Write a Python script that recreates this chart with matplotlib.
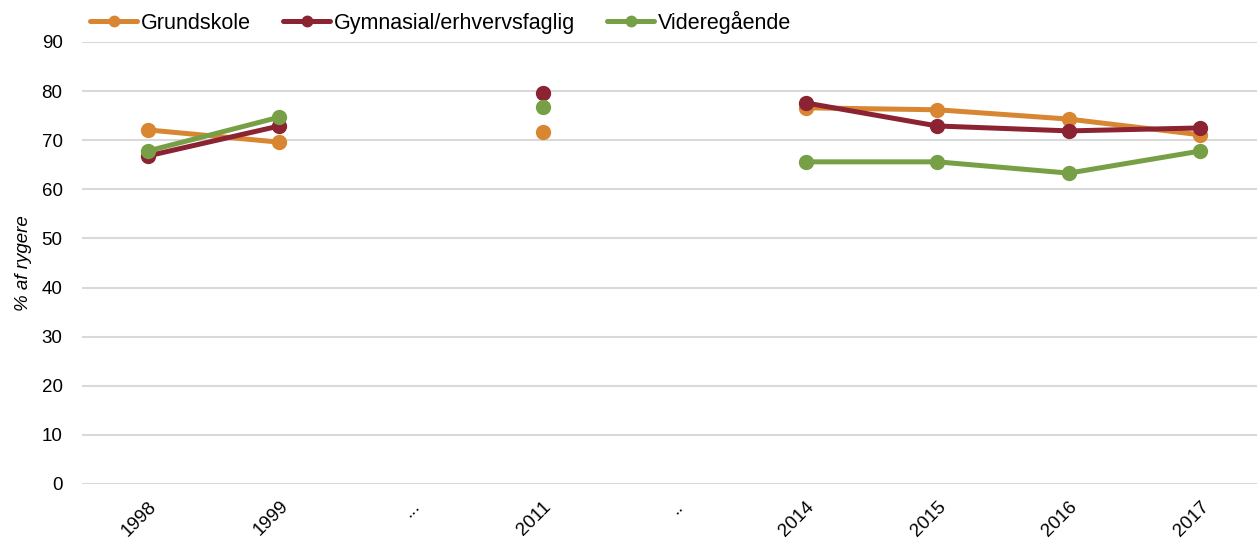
import numpy as np
import matplotlib
matplotlib.use("Agg")
import matplotlib.pyplot as plt

plt.rcParams['font.family'] = ['Liberation Sans', 'DejaVu Sans']

years = ['1998', '1999', '...', '2011', '..', '2014', '2015', '2016', '2017']
grundskole = [72.1, 69.6, np.nan, 71.7, np.nan, 76.6, 76.2, 74.3, 71.1]
gymnasial = [66.8, 72.9, np.nan, 79.6, np.nan, 77.6, 72.9, 71.9, 72.5]
videregaaende = [67.8, 74.7, np.nan, 76.8, np.nan, 65.6, 65.6, 63.3, 67.8]

names = ['Grundskole', 'Gymnasial/erhvervsfaglig', 'Videregående']
colors = ['#D98633', '#8B2333', '#77A046']

fig = plt.figure(figsize=(12.57, 5.4), dpi=100)
ax = fig.add_axes([82 / 1257, 56 / 540, 1 - 82 / 1257, 442 / 540])

x = np.arange(len(years))
for vals, name, c in zip([grundskole, gymnasial, videregaaende], names, colors):
    ax.plot(x, vals, color=c, lw=3.6, marker='o', ms=10, label=name,
            solid_capstyle='round')

ax.set_ylim(0, 90)
ax.set_yticks(range(0, 91, 10))
ax.set_xlim(-0.5, 8.43)
ax.set_xticks(x)
ax.set_xticklabels(years, rotation=45, ha='right', rotation_mode='anchor')
ax.tick_params(length=0, labelsize=13.5)
ax.tick_params(axis='y', pad=14)
ax.tick_params(axis='x', pad=10)
ax.grid(axis='y', color='#d9d9d9', lw=1.5)
ax.set_axisbelow(True)
for s in ax.spines.values():
    s.set_visible(False)
ax.set_ylabel('% af rygere', fontsize=13.5, style='italic', labelpad=7)

fig.legend(loc='center left', bbox_to_anchor=(90 / 1257, 1 - 22 / 540), ncol=3,
           frameon=False, fontsize=15.5, handlelength=2.2, handletextpad=0.15,
           columnspacing=1.5, markerscale=0.75, borderaxespad=0, borderpad=0)

fig.savefig('out.png', dpi=100)
